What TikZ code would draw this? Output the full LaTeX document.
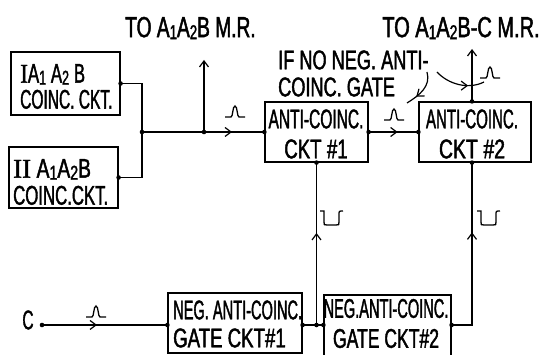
\documentclass[tikz,border=0pt]{standalone}
\usepackage{fontspec}
\setmainfont{Liberation Sans}[FakeStretch=0.575,FakeBold=1.4]
\newfontfamily\romnum{Liberation Serif}[FakeStretch=0.8,FakeBold=1.4]
\usetikzlibrary{arrows.meta,decorations.markings}
\newcommand\lowix[1]{\raisebox{-2pt}{\fontsize{20}{20}\selectfont #1}}
\newcommand\hs[2]{\scalebox{#1}[1]{#2}}
\newcommand\tightlines{\lineskiplimit=-30pt\relax}
\tikzset{
  >={Straight Barb[length=6pt,width=9pt,line width=1.2pt]},
  txt/.style={inner sep=0, font={\fontsize{27}{#1}\selectfont\tightlines}},
  txt/.default=28,
  bigtxt/.style={inner sep=0, font={\fontsize{29}{30}\selectfont}},
  box/.style={draw, line width=1.2pt, inner sep=0},
  wire/.style={line width=1.2pt},
  dot/.style={circle, fill, inner sep=0, minimum size=4.6pt},
  midarrow/.style={postaction={decorate}, decoration={markings, mark=at position #1 with {\arrow{>}}}},
  pospulse/.pic={\draw[line width=1.3pt] (-10,0) -- (-4,0) .. controls (-2,0) and (-2.5,-11) .. (0,-11) .. controls (2.5,-11) and (2,0) .. (4,0) -- (10,0);},
  negpulse/.pic={\draw[line width=1.3pt] (-12,-14) -- (-8,-14) -- (-8,-3) .. controls (-8,0) .. (-5,0) -- (4,0) .. controls (7,0) .. (7,-3) -- (7,-10) .. controls (7,-14) .. (11,-14);}
}
\begin{document}
\begin{tikzpicture}[x=1pt,y=-1pt]
\useasboundingbox (0,0) rectangle (539,355);
\clip (0,0) rectangle (539,355);
% boxes
\node[box, minimum width=109pt, minimum height=63pt] (b1) at (65.5,83.5) {};
\node[box, minimum width=109pt, minimum height=61pt] (b2) at (63.5,177.5) {};
\node[box, minimum width=103pt, minimum height=60pt] (ac1) at (316.5,132) {};
\node[box, minimum width=112pt, minimum height=60pt] (ac2) at (475,132) {};
\node[box, minimum width=134pt, minimum height=60pt] (n1) at (235,323) {};
\node[box, minimum width=127pt, minimum height=62pt] (n2) at (387.5,326) {};
% box texts
\node[txt=26, anchor=west, align=left] (b1t) at (20,86.5)
  {\hs{1.08}{{\romnum I}A\lowix1\,A\lowix2\,B}\\COINC. CKT.};
\node[txt=27, anchor=west, align=left] (b2t) at (13,182)
  {\hs{1.24}{{\romnum II}\,A\lowix1A\lowix2B}\\\hs{1.08}{COINC.CKT.}};
\node[txt=30, align=center] (ac1t) at (316,134)
  {ANTI-COINC.\\\hs{1.2}{CKT\,\#1}};
\node[txt=30, align=center] (ac2t) at (472,134)
  {\hs{0.97}{ANTI-COINC.}\\\hs{1.25}{CKT\,\#2}};
\node[txt=28, anchor=west, align=left] (n1t) at (173,324)
  {\hs{0.94}{NEG. ANTI-COINC.}\\\hs{1.2}{GATE CKT\#1}};
\node[txt=30, align=center] (n2t) at (386,323.5)
  {\hs{0.94}{NEG.ANTI-COINC.}\\\hs{1.13}{GATE CKT\#2}};
% labels
\node[bigtxt] (to1) at (190.5,28) {\hs{1.15}{TO A\lowix1A\lowix2B M.R.}};
\node[bigtxt] (to2) at (461,28) {\hs{1.2}{TO A\lowix1A\lowix2B-C M.R.}};
\node[txt=27, align=left, anchor=west] (note) at (278,73.5)
  {\hs{1.17}{IF NO NEG. ANTI-}\\\hs{1.17}{COINC. GATE}};
\node[txt] (c) at (28,320) {C};
% coordinates
\coordinate (lv) at (0,325);
\coordinate (vx) at (472,0);
\coordinate (j1) at (142,132);
\coordinate (j2) at (204,132);
\coordinate (o1) at (204,60);
\coordinate (o2) at (472,49);
\coordinate (cd) at (42,325);
\coordinate (na) at (427,72);
\coordinate (nb) at (407,103);
\coordinate (ma) at (437,72);
\coordinate (mb) at (484,82);
\coordinate (t2) at (ac2.north -| vx);
\coordinate (s2) at (ac2.south -| vx);
\coordinate (j3) at (ac1.south |- lv);
% wires
\draw[wire] (b1.east) -| (j1);
\draw[wire] (b2.east) -| (j1);
\draw[wire, midarrow=90pt] (j1) -- (ac1.west);
\draw[wire, ->] (j2) -- (o1);
\draw[wire, midarrow=29pt] (ac1.east) -- (ac2.west);
\draw[wire, ->] (t2) -- (o2);
\draw[wire, midarrow=92pt] (j3) -- (ac1.south);
\draw[wire] (n1.east |- lv) -- (n2.west |- lv);
\draw[wire, midarrow=113pt] (n2.east |- lv) -| (s2);
\draw[wire, midarrow=55pt] (cd) -- (n1.west |- lv);
\draw[wire, midarrow=0.72] (na) .. controls (431,86) and (420,95) .. (nb);
\draw[wire, midarrow=0.68] (ma) .. controls (448,84) and (468,90) .. (mb);
% dots
\foreach \p in {b1.east,b2.east,j1,j2,ac1.west,ac1.east,ac2.west,t2,ac1.south,j3,s2,cd}
  \node[dot] at (\p) {};
\foreach \p in {n1.east,n2.west,n2.east,n1.west}
  \node[dot] at (\p |- lv) {};
% pulses
\pic at (235,117) {pospulse};
\pic at (394,120) {pospulse};
\pic at (490,78) {pospulse};
\pic at (96,317) {pospulse};
\pic at (332,225) {negpulse};
\pic at (489,225) {negpulse};
\end{tikzpicture}
\end{document}
